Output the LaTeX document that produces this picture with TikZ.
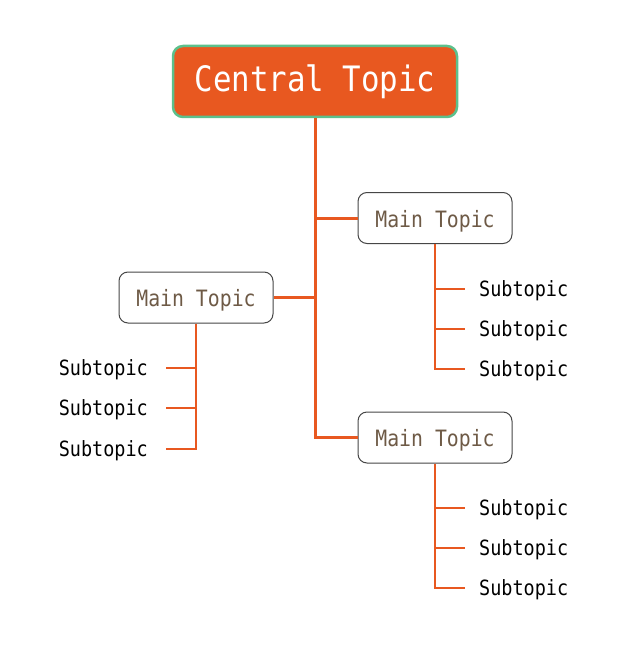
\documentclass[tikz,border=0pt]{standalone}
\usepackage{fontspec}
\setmainfont{DejaVu Sans Mono}
\newfontfamily\topicfont[FakeStretch=0.88]{DejaVu Sans Mono}
\definecolor{topicorange}{RGB}{232,88,32}
\definecolor{topicgreen}{RGB}{92,192,140}
\definecolor{topicbrown}{RGB}{110,90,70}
\definecolor{topicgray}{RGB}{70,70,70}

\begin{document}
\begin{tikzpicture}[x=1pt, y=-1pt,
        central/.style={draw=topicgreen, line width=2.5pt, fill=topicorange,
          rounded corners=10pt, minimum width=284pt, minimum height=71pt,
          text height=21pt, text depth=0pt,
          text=white, font=\topicfont\fontsize{35}{40}\selectfont},
        maintopic/.style={draw=topicgray, line width=1pt, fill=white,
          rounded corners=9pt, minimum width=154pt, minimum height=51pt,
          text height=18pt, text depth=0pt,
          text=topicbrown, font=\topicfont\fontsize{22.5}{26}\selectfont},
        subtopic/.style={inner xsep=14pt, inner ysep=0pt, text height=15pt, text depth=0pt,
          font=\topicfont\fontsize{21}{25}\selectfont},
        trunk/.style={draw=topicorange, line width=3pt},
        twig/.style={draw=topicorange, line width=1.3pt}
        ]
        \useasboundingbox (0,0) rectangle (631,663);

        \node[central] (c) at (315,81.5) {Central Topic};
        \node[maintopic] (m1) at (435,218) {Main Topic};
        \node[maintopic] (m2) at (196,297.5) {Main Topic};
        \node[maintopic] (m3) at (435,437.5) {Main Topic};

        \node[subtopic, anchor=west] (s11) at (465,289) {Subtopic};
        \node[subtopic, anchor=west] (s12) at (465,329) {Subtopic};
        \node[subtopic, anchor=west] (s13) at (465,369) {Subtopic};
        \node[subtopic, inner xsep=18pt, anchor=east] (s21) at (166,368) {Subtopic};
        \node[subtopic, inner xsep=18pt, anchor=east] (s22) at (166,408) {Subtopic};
        \node[subtopic, inner xsep=18pt, anchor=east] (s23) at (166,449) {Subtopic};
        \node[subtopic, anchor=west] (s31) at (465,508) {Subtopic};
        \node[subtopic, anchor=west] (s32) at (465,548) {Subtopic};
        \node[subtopic, anchor=west] (s33) at (465,588) {Subtopic};

        % branches
        \draw[trunk] (c.south) |- (m1.west);
        \draw[trunk] (c.south) |- (m2.east);
        \draw[trunk] (c.south) |- (m3.west);

        \draw[twig] (m1.south) |- (s11.west);
        \draw[twig] (m1.south) |- (s12.west);
        \draw[twig] (m1.south) |- (s13.west);
        \draw[twig] (m2.south) |- (s21.east);
        \draw[twig] (m2.south) |- (s22.east);
        \draw[twig] (m2.south) |- (s23.east);
        \draw[twig] (m3.south) |- (s31.west);
        \draw[twig] (m3.south) |- (s32.west);
        \draw[twig] (m3.south) |- (s33.west);
\end{tikzpicture}
\end{document}
